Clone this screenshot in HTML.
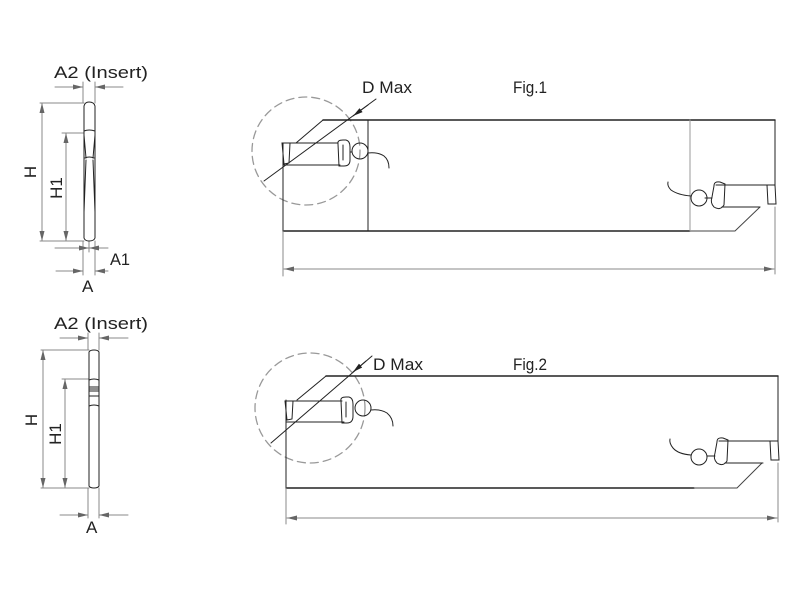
<!DOCTYPE html>
<html><head><meta charset="utf-8"><style>
html,body{margin:0;padding:0;background:#fff;}
svg{display:block;font-family:"Liberation Sans",sans-serif;}
</style></head><body>
<svg width="800" height="600" viewBox="0 0 800 600" xmlns="http://www.w3.org/2000/svg">
<defs>
<marker id="ar" viewBox="0 0 10 6" refX="10" refY="3" markerWidth="10" markerHeight="6" orient="auto-start-reverse" markerUnits="userSpaceOnUse"><path d="M0,0.5 L10,3 L0,5.5Z" fill="#666"/></marker>
<marker id="ab" viewBox="0 0 10 6" refX="10" refY="3" markerWidth="10" markerHeight="6" orient="auto" markerUnits="userSpaceOnUse"><path d="M0,0.5 L10,3 L0,5.5Z" fill="#222"/></marker>
</defs>
<g fill="none" stroke-linecap="round">
<g stroke="#888" stroke-width="1">
<line x1="55" y1="87" x2="83" y2="87" marker-end="url(#ar)"/>
<line x1="123" y1="87" x2="95" y2="87" marker-end="url(#ar)"/>
<line x1="83" y1="82" x2="83" y2="103"/><line x1="95" y1="82" x2="95" y2="103"/>
<line x1="40" y1="103" x2="84" y2="103"/><line x1="62" y1="133" x2="84" y2="133"/>
<line x1="40" y1="241" x2="84" y2="241"/>
<line x1="42" y1="103" x2="42" y2="241" marker-start="url(#ar)" marker-end="url(#ar)"/>
<line x1="66" y1="133" x2="66" y2="241" marker-start="url(#ar)" marker-end="url(#ar)"/>
<line x1="83" y1="241" x2="83" y2="275"/><line x1="95" y1="241" x2="95" y2="275"/>
<line x1="89" y1="241" x2="89" y2="252"/>
<line x1="55" y1="248" x2="89" y2="248" marker-end="url(#ar)"/>
<line x1="108" y1="248" x2="89" y2="248" marker-end="url(#ar)"/>
<line x1="56" y1="271" x2="83" y2="271" marker-end="url(#ar)"/>
<line x1="108" y1="271" x2="95" y2="271" marker-end="url(#ar)"/>
</g>
<g stroke="#222" stroke-width="1">
<path d="M84,106 Q85,102 89,102 Q94,102 95,106 L95,238 Q94,241 89,241 Q85,241 84,238Z"/>
<path d="M84,131 Q89,129 95,131"/><path d="M84,135 L86,158 M95,135 L93,158"/><path d="M85,158 Q89,156 94,158"/>
<path d="M84,212 L86,160 M95,212 L93,160"/>
</g>
<g stroke="#888" stroke-width="1">
<line x1="60" y1="338" x2="88" y2="338" marker-end="url(#ar)"/>
<line x1="128" y1="338" x2="99" y2="338" marker-end="url(#ar)"/>
<line x1="88" y1="333" x2="88" y2="350"/><line x1="99" y1="333" x2="99" y2="350"/>
<line x1="41" y1="350" x2="89" y2="350"/><line x1="62" y1="379" x2="89" y2="379"/>
<line x1="41" y1="488" x2="89" y2="488"/>
<line x1="43" y1="350" x2="43" y2="488" marker-start="url(#ar)" marker-end="url(#ar)"/>
<line x1="65" y1="379" x2="65" y2="488" marker-start="url(#ar)" marker-end="url(#ar)"/>
<line x1="88" y1="488" x2="88" y2="518"/><line x1="99" y1="488" x2="99" y2="518"/>
<line x1="60" y1="515" x2="88" y2="515" marker-end="url(#ar)"/>
<line x1="128" y1="515" x2="99" y2="515" marker-end="url(#ar)"/>
</g>
<g stroke="#222" stroke-width="1">
<path d="M89,352 Q90,350 94,350 Q98,350 99,352 L99,486 Q98,488 94,488 Q90,488 89,486Z"/>
<path d="M89,380 Q94,378 99,380"/>
<line x1="89" y1="387" x2="99" y2="387"/><line x1="89" y1="389" x2="99" y2="389"/><line x1="89" y1="391" x2="99" y2="391"/>
<line x1="89" y1="396" x2="99" y2="396"/><path d="M89,406 Q94,404 99,406"/>
</g>
<!-- ===== Fig 1 ===== -->
<circle cx="306" cy="151" r="54" stroke="#999" stroke-width="1.3" stroke-dasharray="8,5"/>
<g stroke="#222" stroke-width="1">
<path d="M323,120 L775,120" stroke-width="1.5"/>
<path d="M323,120 L296,143"/>
<path d="M283,143 L283,231"/>
<path d="M283,231 L690,231" stroke-width="1.5"/>
<path d="M690,231 L735,231 L760,207" stroke="#444"/>
<line x1="368" y1="120" x2="368" y2="231"/>
<line x1="690" y1="120" x2="690" y2="231" stroke="#999"/>
<line x1="775" y1="120" x2="775" y2="186"/>
<path d="M283,143 L338,143 M283,165 L340,165"/>
<path d="M282,143 L290,143 L289,163 L284,164Z"/>
<path d="M338,144 Q337,140 343,140 L346,140 Q350,141 350,147 L350,160 Q350,166 344,166 L339,166 L338,144Z"/>
<path d="M343,145 L343,160"/>
<line x1="350" y1="152" x2="352" y2="152"/>
<circle cx="360" cy="151" r="8"/>
<path d="M368,153 Q378,152 384,156 Q389,160 389,168"/>
<path d="M716,185 L775,185 M722,207 L760,207"/>
<path d="M767,185 L775,185 L776,204 L768,204Z"/>
<path d="M714,186 Q714,181 720,182 L725,184 L724,205 Q720,211 714,207 Q710,203 712,197Z"/>
<line x1="705" y1="198" x2="712" y2="198"/>
<circle cx="699" cy="198" r="8"/>
<path d="M691,196 Q678,195 671,190 Q667,186 668,182"/>
<line x1="264" y1="181" x2="376" y2="99"/>
<line x1="368" y1="105" x2="353" y2="116" marker-end="url(#ab)"/>
</g>
<g stroke="#888" stroke-width="1">
<line x1="283" y1="231" x2="283" y2="276"/>
<line x1="775" y1="207" x2="775" y2="274"/>
<line x1="284" y1="269" x2="774" y2="269" marker-start="url(#ar)" marker-end="url(#ar)"/>
</g>
<!-- ===== Fig 2 ===== -->
<circle cx="310" cy="408" r="55" stroke="#999" stroke-width="1.3" stroke-dasharray="8,5"/>
<g stroke="#222" stroke-width="1">
<path d="M326,376 L778,376" stroke-width="1.5"/>
<path d="M326,376 L297,400"/>
<path d="M286,400 L286,488"/>
<path d="M286,488 L694,488" stroke-width="1.5"/>
<path d="M694,488 L737,488 L762,463" stroke="#444"/>
<line x1="778" y1="376" x2="778" y2="441"/>
<path d="M286,401 L342,401 M286,422 L344,422"/>
<path d="M285,401 L293,401 L292,419 L287,420Z"/>
<path d="M341,401 Q340,397 346,397 L349,397 Q353,398 353,404 L353,416 Q353,423 347,423 L342,423 L341,401Z"/>
<path d="M346,402 L346,417"/>
<circle cx="363" cy="408" r="8"/>
<path d="M371,410 Q381,409 387,413 Q393,418 393,426"/>
<path d="M719,441 L778,441 M725,463 L763,463"/>
<path d="M770,441 L778,441 L779,460 L771,460Z"/>
<path d="M717,442 Q717,437 723,438 L728,440 L727,461 Q723,467 717,463 Q713,459 715,453Z"/>
<line x1="707" y1="456" x2="715" y2="456"/>
<circle cx="699" cy="457" r="8"/>
<path d="M691,455 Q678,454 673,448 Q669,443 670,439"/>
<line x1="271" y1="443" x2="372" y2="356"/>
<line x1="366" y1="361" x2="353" y2="372" marker-end="url(#ab)"/>
</g>
<g stroke="#888" stroke-width="1">
<line x1="286" y1="488" x2="286" y2="524"/>
<line x1="778" y1="463" x2="778" y2="522"/>
<line x1="287" y1="518" x2="777" y2="518" marker-start="url(#ar)" marker-end="url(#ar)"/>
</g>
</g>
<g fill="#222" font-size="17">
<text x="54" y="78" textLength="94" lengthAdjust="spacingAndGlyphs">A2 (Insert)</text>
<text x="110" y="265" textLength="20" lengthAdjust="spacingAndGlyphs">A1</text>
<text x="82" y="292">A</text>
<text x="36" y="172" transform="rotate(-90 36 172)" text-anchor="middle">H</text>
<text x="62" y="188" transform="rotate(-90 62 188)" text-anchor="middle">H1</text>
<text x="362" y="93" textLength="50" lengthAdjust="spacingAndGlyphs">D Max</text>
<text x="513" y="93" textLength="34" lengthAdjust="spacingAndGlyphs">Fig.1</text>
<text x="54" y="329" textLength="94" lengthAdjust="spacingAndGlyphs">A2 (Insert)</text>
<text x="86" y="533">A</text>
<text x="37" y="420" transform="rotate(-90 37 420)" text-anchor="middle">H</text>
<text x="61" y="434" transform="rotate(-90 61 434)" text-anchor="middle">H1</text>
<text x="373" y="370" textLength="50" lengthAdjust="spacingAndGlyphs">D Max</text>
<text x="513" y="370" textLength="34" lengthAdjust="spacingAndGlyphs">Fig.2</text>
</g>
</svg>
</body></html>
